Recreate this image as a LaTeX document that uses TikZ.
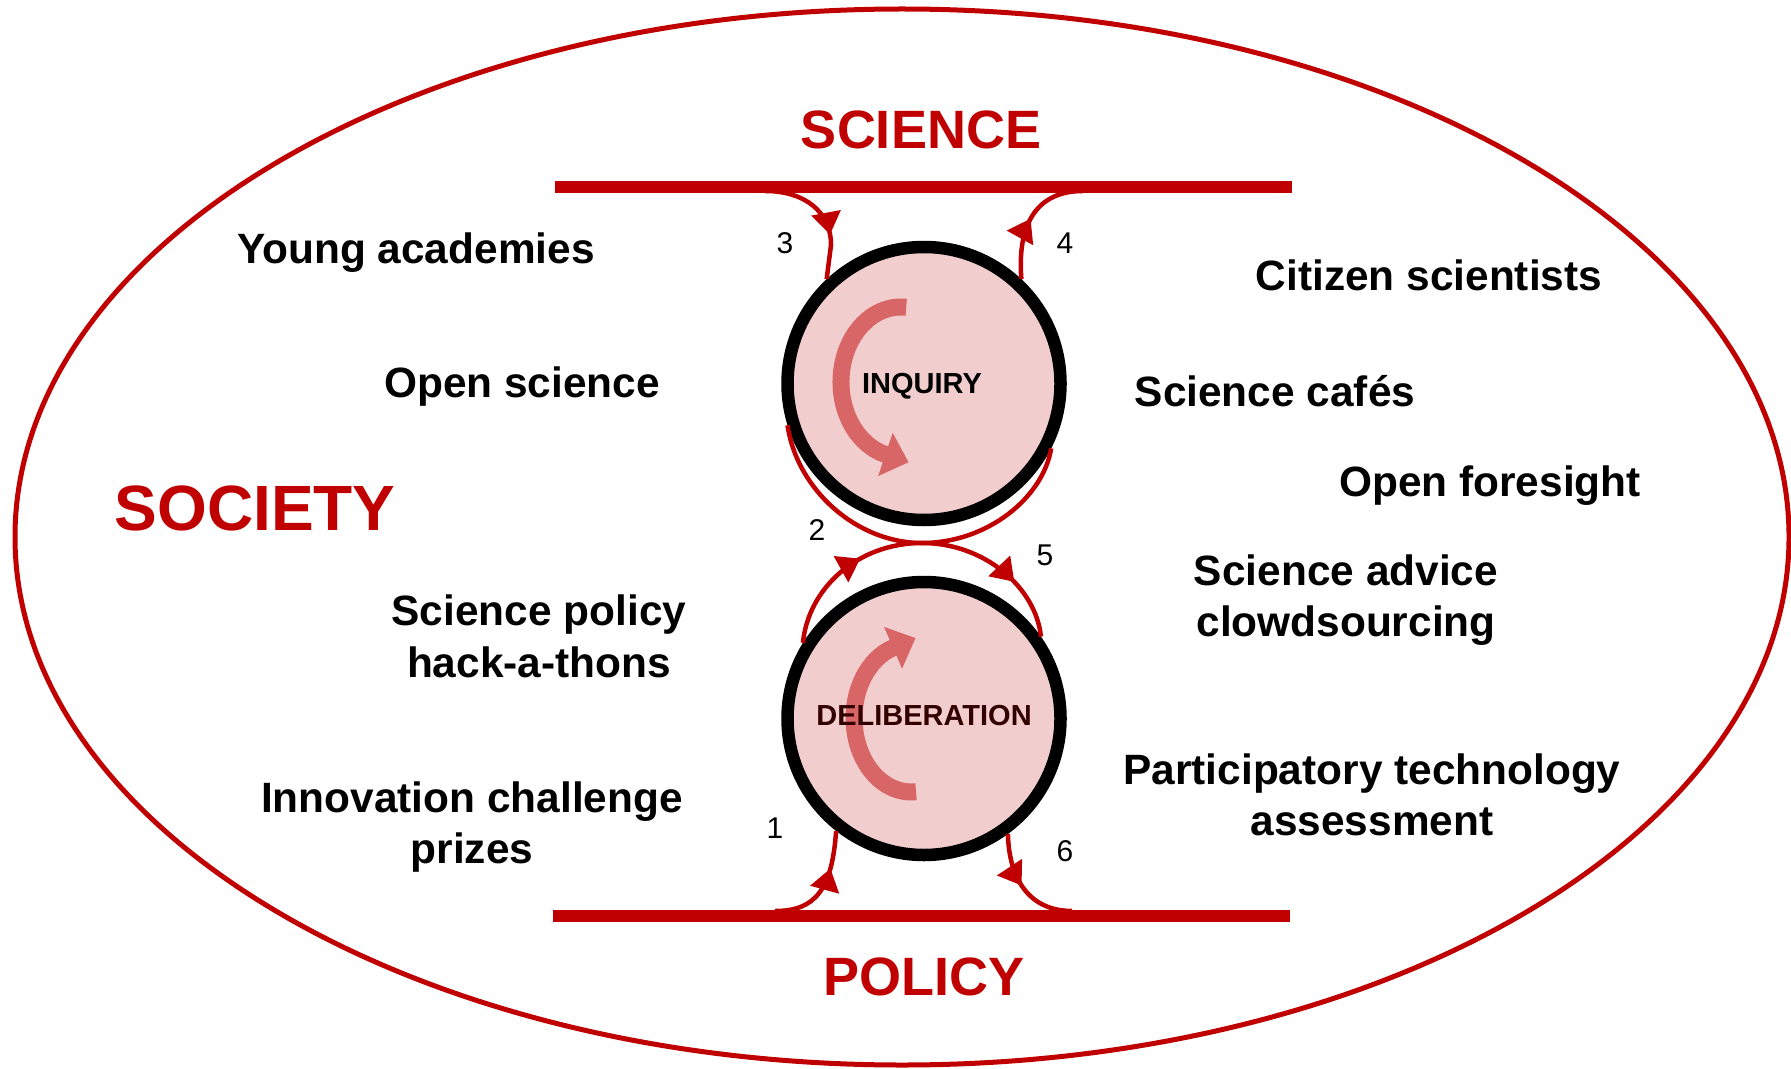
\documentclass[tikz,border=0pt]{standalone}
\usepackage{fontspec}
\setmainfont{Liberation Sans}
\usetikzlibrary{arrows.meta,decorations.markings}
\definecolor{dred}{RGB}{192,0,0}
\definecolor{hubfill}{RGB}{242,205,205}
\definecolor{cycarrow}{RGB}{217,102,102}
\definecolor{deltext}{RGB}{51,0,0}
\begin{document}
\begin{tikzpicture}[x=0.5pt,y=-0.5pt,
  lab/.style={font=\bfseries\fontsize{21.2}{25}\selectfont, anchor=base, inner sep=0pt},
  realmlabel/.style={font=\bfseries\fontsize{27}{32}\selectfont, text=dred, anchor=base, inner sep=0pt},
  num/.style={font=\fontsize{15}{18}\selectfont, anchor=base, inner sep=0pt},
  hubname/.style={font=\bfseries\fontsize{14.5}{17}\selectfont, anchor=base, inner sep=0pt},
  hub/.style={circle, draw=black, line width=6.25pt, fill=hubfill, minimum size=136.5pt, inner sep=0pt},
  bar/.style={draw=dred, line width=6pt},
  conn/.style={color=dred, line width=2.25pt},
  cyc/.style={draw=cycarrow, line width=8.5pt, -{Triangle[length=12.25pt 0 0,width=22pt 0 0]}},
  tipat/.style={postaction={decorate}, decoration={markings, mark=at position #1 with {\arrow{Triangle[length=11pt 0 0,width=14.5pt 0 0]}}}}
]
\useasboundingbox (0,0) rectangle (1791,1069);
% society ellipse
\draw[dred, line width=2.5pt] (902,537) ellipse [x radius=887, y radius=528];
% science and policy bars
\coordinate (sciL) at (555,187);
\coordinate (sciR) at (1292,187);
\coordinate (polL) at (553,915.5);
\coordinate (polR) at (1290,915.5);
\draw[bar] (sciL) -- (sciR);
\draw[bar] (polL) -- (polR);
% hubs
\node[hub] (inq) at (924,383.5) {};
\node[hub] (del) at (924,718.5) {};
% cycle arrows inside hubs
\draw[cyc] (906.2,307.3) arc[start angle=275, end angle=105, x radius=60, y radius=75] -- ++(23.2,7.8);
\draw[cyc] (916,791.7) arc[start angle=85, end angle=251.6, x radius=57, y radius=74] -- ++(22.5,-9.7);
\node[hubname] (inqt) at (922,393) {INQUIRY};
\node[hubname, text=deltext] (delt) at (924,725) {DELIBERATION};
% connector end points
\coordinate (s3) at (765,191);
\coordinate (s4) at (1083,191);
\coordinate (p1) at (775,911);
\coordinate (p6) at (1072,911);
\coordinate (x25) at (922,543);
% connectors
\draw[conn, tipat=-22.5pt] (s3) .. controls (805,191) and (831,212) .. (831,245) -- (inq.133);
\draw[conn, tipat=31pt] (inq.47) .. controls (1017,225) and (1036,191) .. (s4);
\draw[conn, tipat=-19pt] (p1) .. controls (815,911) and (832,890) .. (del.232);
\draw[conn, tipat=27pt] (del.306) .. controls (1009,880) and (1030,911) .. (p6);
\draw[conn, tipat=53pt] (del.148) .. controls (808,589) and (857,543) .. (x25) .. controls (987,543) and (1043,498) .. (inq.333);
\draw[conn, tipat=-31pt] (inq.197) .. controls (797,490) and (857,543) .. (x25) .. controls (985,543) and (1036,588) .. (del.35);
% numbers
\node[num] (n1) at (775,838) {1};
\node[num] (n2) at (817,540) {2};
\node[num] (n3) at (785,254) {3};
\node[num] (n4) at (1065,254) {4};
\node[num] (n5) at (1045,565) {5};
\node[num] (n6) at (1065,861) {6};
% realm labels
\node[realmlabel] (science) at (921,149) {SCIENCE};
\node[realmlabel] (policy) at (924,995) {POLICY};
\node[realmlabel, font=\bfseries\fontsize{32}{38}\selectfont] (society) at (255,530) {SOCIETY};
% practice labels
\node[lab] (young) at (416,264) {Young academies};
\node[lab] (opensci) at (522,397) {Open science};
\node[lab] (sp1) at (539,625) {Science policy};
\node[lab] (sp2) at (539,677) {hack-a-thons};
\node[lab] (ic1) at (472,812) {Innovation challenge};
\node[lab] (ic2) at (472,863) {prizes};
\node[lab] (citizen) at (1429,291) {Citizen scientists};
\node[lab] (cafes) at (1275,406) {Science cafés};
\node[lab] (foresight) at (1490,496) {Open foresight};
\node[lab] (sa1) at (1346,585) {Science advice};
\node[lab] (sa2) at (1346,636) {clowdsourcing};
\node[lab] (pta1) at (1372,784) {Participatory technology};
\node[lab] (pta2) at (1372,835) {assessment};
\end{tikzpicture}
\end{document}
